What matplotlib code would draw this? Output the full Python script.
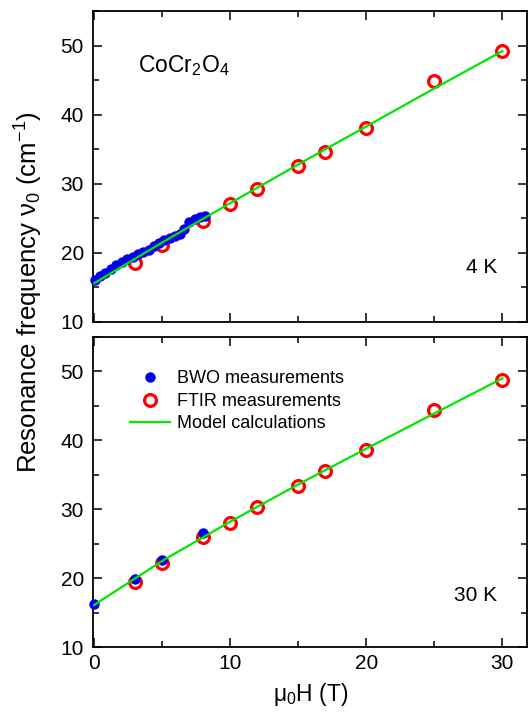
import numpy as np
import matplotlib.pyplot as plt
from matplotlib.ticker import MultipleLocator

plt.rcParams['font.family'] = ['Liberation Sans', 'DejaVu Sans']
plt.rcParams['mathtext.fontset'] = 'custom'
plt.rcParams['mathtext.rm'] = 'Liberation Sans'
plt.rcParams['mathtext.it'] = 'Liberation Sans'

# 4 K data
bwo_4k_B = [0.07, 0.44, 0.81, 1.23, 1.62, 2.03, 2.45, 2.84, 3.19, 3.58, 4.0,
            4.41, 4.8, 5.15, 5.54, 5.96, 6.32, 6.6, 6.99, 7.43, 7.79, 8.16]
bwo_4k_nu = [16.06, 16.64, 17.1, 17.7, 18.2, 18.66, 19.05, 19.4, 19.8, 20.06, 20.4,
             21.0, 21.4, 21.8, 22.2, 22.4, 22.8, 23.5, 24.5, 24.96, 25.2, 25.4]
ftir_4k_B = [3, 5, 8, 10, 12, 15, 17, 20, 25, 30]
ftir_4k_nu = [18.5, 21.1, 24.6, 27.0, 29.3, 32.6, 34.6, 38.1, 44.8, 49.2]
model_4k_B = [0, 5, 10, 15, 20, 25, 30]
model_4k_nu = [15.6, 21.5, 27.2, 32.8, 38.3, 43.8, 49.2]

# 30 K data
bwo_30k_B = [0, 3, 5, 8]
bwo_30k_nu = [16.2, 19.9, 22.7, 26.6]
ftir_30k_B = [3, 5, 8, 10, 12, 15, 17, 20, 25, 30]
ftir_30k_nu = [19.5, 22.2, 25.9, 28.0, 30.3, 33.4, 35.6, 38.6, 44.4, 48.8]
model_30k_B = [0, 5, 10, 15, 20, 25, 30]
model_30k_nu = [16.1, 22.5, 28.2, 33.6, 38.8, 43.9, 49.0]

fig = plt.figure(figsize=(5.29, 7.15), dpi=100)
ax1 = fig.add_axes([0.1767, 0.5497, 0.8193, 0.4349])
ax2 = fig.add_axes([0.1767, 0.0951, 0.8193, 0.4336])

green = '#00e600'
panels = [
    (ax1, bwo_4k_B, bwo_4k_nu, ftir_4k_B, ftir_4k_nu, model_4k_B, model_4k_nu, '4 K', 0.145),
    (ax2, bwo_30k_B, bwo_30k_nu, ftir_30k_B, ftir_30k_nu, model_30k_B, model_30k_nu, '30 K', 0.135),
]
for ax, bB, bn, fB, fn, mB, mn, lab, ly in panels:
    ax.plot(bB, bn, 'o', color='#0000ee', ms=7.5, mec='none',
            label='BWO measurements', zorder=3, clip_on=False)
    ax.plot(fB, fn, 'o', mfc='none', mec='#ff0000', ms=8.5, mew=2.3,
            label='FTIR measurements', zorder=2)
    ax.plot(mB, mn, '-', color=green, lw=1.6, label='Model calculations', zorder=4)
    ax.set_xlim(-0.05, 31.8)
    ax.set_ylim(10, 55)
    ax.xaxis.set_major_locator(MultipleLocator(10))
    ax.xaxis.set_minor_locator(MultipleLocator(5))
    ax.yaxis.set_major_locator(MultipleLocator(10))
    ax.yaxis.set_minor_locator(MultipleLocator(5))
    ax.tick_params(which='both', direction='in', top=True, right=True,
                   labelsize=15, width=1.1)
    ax.tick_params(which='major', length=6.5)
    ax.tick_params(which='minor', length=4)
    ax.tick_params(axis='x', pad=5)
    ax.tick_params(axis='y', pad=7)
    for s in ax.spines.values():
        s.set_linewidth(1.3)
    ax.text(0.931, ly, lab, transform=ax.transAxes,
            fontsize=15, ha='right', va='bottom')

ax1.tick_params(labelbottom=False)
ax1.text(0.103, 0.804, 'CoCr$_2$O$_4$', transform=ax1.transAxes, fontsize=16.5,
         va='baseline')

ax2.legend(loc='upper left', bbox_to_anchor=(0.084, 0.892), frameon=False,
           fontsize=13, handlelength=2.2, handletextpad=0.4, labelspacing=0.3,
           borderaxespad=0, borderpad=0)
ax2.set_xlabel('$\\mu_0$H (T)', fontsize=16.5, labelpad=6)

fig.text(0.055, 0.592, 'Resonance frequency $\\nu_0$ (cm$^{-1}$)', rotation=90,
         fontsize=18.5, ha='center', va='center')

fig.savefig('out.png', dpi=100)
